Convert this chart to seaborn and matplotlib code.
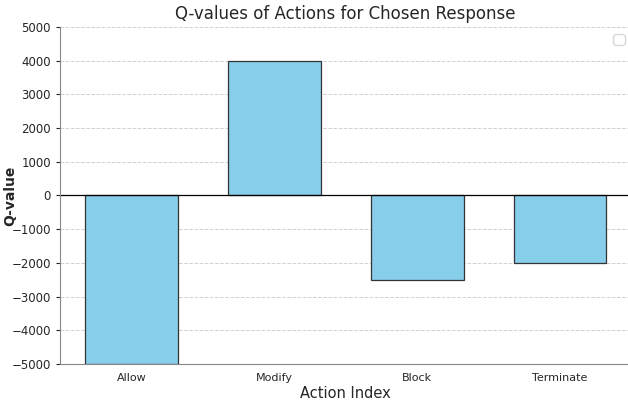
import matplotlib
matplotlib.use('Agg')
import matplotlib.pyplot as plt
import seaborn as sns
import pandas as pd

# ===== DATA =====
actions = ["Allow", "Modify", "Block", "Terminate"]
q_values = [-5000, 4000, -2500, -2000]
y_ticks = list(range(-5000, 5001, 1000))

df = pd.DataFrame({"action": actions, "q": q_values})

# ===== STYLE =====
sns.set_style("white")
plt.rcParams["font.family"] = ["DejaVu Sans"]

fig = plt.figure(figsize=(6.28, 4.01), dpi=100)
ax = fig.add_axes([0.0955, 0.092, 0.91, 0.841])

sns.barplot(data=df, x="action", y="q", color="skyblue", saturation=1,
            edgecolor="#333333", linewidth=0.9, width=0.65, ax=ax)

ax.axhline(0, color="black", linewidth=0.9)
ax.set_ylim(-5000, 5000)
ax.set_yticks(y_ticks)
ax.yaxis.grid(True, linestyle="--", color="#d0d0d0", linewidth=0.7)
ax.set_axisbelow(True)

ax.set_title("Q-values of Actions for Chosen Response", fontsize=12)
ax.set_xlabel("Action Index", fontsize=10.5, labelpad=2)
ax.set_ylabel("Q-value", fontsize=10, fontweight="semibold")
ax.yaxis.set_label_coords(-0.075, 0.5)
ax.tick_params(axis="x", labelsize=8, length=3)
ax.tick_params(axis="y", labelsize=8.5, length=3, left=True)

for s in ["top", "right"]:
    ax.spines[s].set_visible(False)
for s in ["left", "bottom"]:
    ax.spines[s].set_color("#888888")

# empty legend box like the original
ax.legend(handles=[], loc="upper right")

fig.savefig("out.png", dpi=100)
